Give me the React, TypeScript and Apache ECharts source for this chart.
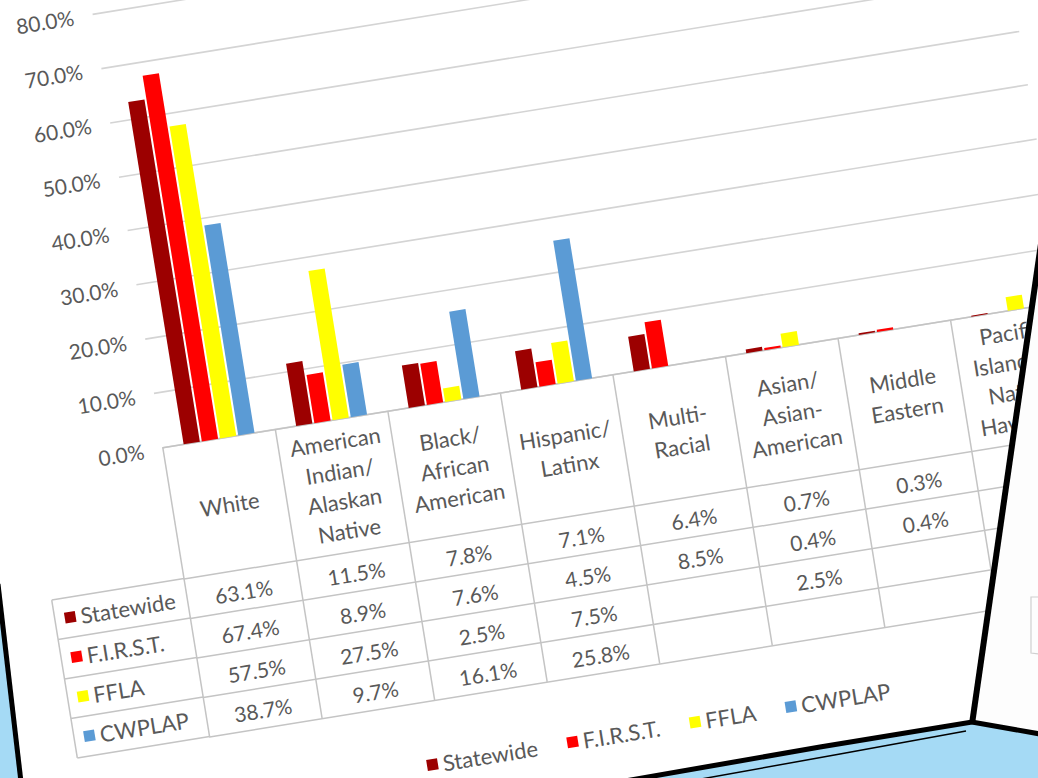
import React, { useEffect, useRef } from "react";
import * as echarts from "echarts";

// ---------- data ----------
const categories = [
  "White",
  "American\nIndian/\nAlaskan\nNative",
  "Black/\nAfrican\nAmerican",
  "Hispanic/\nLatinx",
  "Multi-\nRacial",
  "Asian/\nAsian-\nAmerican",
  "Middle\nEastern",
  "Pacific\nIslander/\nNative\nHawaiian",
];
const seriesNames = ["Statewide", "F.I.R.S.T.", "FFLA", "CWPLAP"];
const statewide = [63.1, 11.5, 7.8, 7.1, 6.4, 0.7, 0.3, 0.2];
const first = [67.4, 8.9, 7.6, 4.5, 8.5, 0.4, 0.4, null];
const ffla = [57.5, 27.5, 2.5, 7.5, null, 2.5, null, 2.5];
const cwplap = [38.7, 9.7, 16.1, 25.8, null, null, null, null];
const seriesValues = [statewide, first, ffla, cwplap];
const seriesColors = ["#9C0000", "#FF0000", "#FFFF00", "#5B9BD5"];
const yMin = 0;
const yMax = 80;
const yInterval = 10;

// ---------- layout ----------
const PAGE_W = 1038;
const PAGE_H = 778;
const ANGLE = -9.2;
const PIVOT_X = 519;
const PIVOT_Y = 389;
const FRAME_TOP = -110;
const FRAME_W = 1100;
const FRAME_H = 900;
const GRID_LEFT = 158;
const BAND = 114;
const GRID_TOP = 60.4;
const GRID_H = 439.6;
const HEADER_H = 132.6;
const ROW_H = 40;
const KEY_LEFT = 24;
const TEXT = "#595959";
const LINE = "#C4C4C4";
const FONT = "Lato, 'Open Sans', sans-serif";
const FS_TEXT = 22;
const FS_NUM = 21;

const fmt = (v: number | null) => (v == null ? "" : v.toFixed(1) + "%");

function MainChart() {
  const ref = useRef<HTMLDivElement>(null);
  useEffect(() => {
    if (!ref.current) return;
    const chart = echarts.init(ref.current, undefined, { renderer: "svg" });
    const zeroY = GRID_TOP + GRID_H;
    const rowTop = zeroY + HEADER_H;
    const rowAxes = seriesValues.map((vals, i) => ({
      type: "category",
      gridIndex: 0,
      position: "bottom",
      offset: HEADER_H + i * ROW_H,
      data: categories,
      axisLine: { show: true, lineStyle: { color: LINE, width: 1.5 } },
      axisTick: { show: false },
      axisLabel: {
        interval: 0,
        margin: ROW_H / 2 + 2,
        verticalAlign: "middle",
        fontSize: FS_NUM,
        color: TEXT,
        fontFamily: FONT,
        formatter: (_v: string, idx: number) => fmt(vals[idx] as number | null),
      },
    }));
    const keyLines: any[] = [];
    for (let i = 0; i <= seriesNames.length; i++) {
      keyLines.push({
        type: "line",
        shape: { x1: KEY_LEFT, y1: rowTop + i * ROW_H, x2: GRID_LEFT, y2: rowTop + i * ROW_H },
        style: { stroke: LINE, lineWidth: 1.5 },
      });
    }
    keyLines.push({
      type: "line",
      shape: { x1: KEY_LEFT, y1: rowTop, x2: KEY_LEFT, y2: rowTop + seriesNames.length * ROW_H },
      style: { stroke: LINE, lineWidth: 1.5 },
    });

    chart.setOption({
      animation: false,
      backgroundColor: "#ffffff",
      textStyle: { fontFamily: FONT },
      grid: { left: GRID_LEFT, top: GRID_TOP, width: BAND * categories.length, height: GRID_H },
      legend: [
        {
          orient: "vertical",
          left: KEY_LEFT + 10,
          top: rowTop + (ROW_H - 24) / 2,
          padding: 0,
          itemWidth: 11,
          itemHeight: 11,
          itemGap: ROW_H - 24,
          icon: "rect",
          selectedMode: false,
          data: seriesNames,
          textStyle: { fontSize: FS_TEXT, lineHeight: 24, color: TEXT, fontFamily: FONT },
        },
        {
          orient: "horizontal",
          left: 368,
          top: 746 - FRAME_TOP - 12,
          padding: 0,
          itemWidth: 11,
          itemHeight: 11,
          itemGap: 30,
          icon: "rect",
          selectedMode: false,
          data: seriesNames,
          textStyle: { fontSize: FS_TEXT, lineHeight: 24, color: TEXT, fontFamily: FONT },
        },
      ],
      xAxis: [
        {
          type: "category",
          data: categories,
          position: "bottom",
          axisLine: { show: true, lineStyle: { color: LINE, width: 1.5 } },
          axisTick: {
            show: true,
            interval: 0,
            length: HEADER_H + seriesNames.length * ROW_H,
            lineStyle: { color: LINE, width: 1.5 },
          },
          axisLabel: {
            interval: 0,
            margin: HEADER_H / 2,
            verticalAlign: "middle",
            lineHeight: 30,
            fontSize: FS_TEXT,
            color: TEXT,
            fontFamily: FONT,
          },
        },
        ...rowAxes,
        {
          type: "category",
          gridIndex: 0,
          position: "bottom",
          offset: HEADER_H + seriesNames.length * ROW_H,
          data: categories,
          axisLine: { show: true, lineStyle: { color: LINE, width: 1.5 } },
          axisTick: { show: false },
          axisLabel: { show: false },
        },
      ],
      yAxis: {
        type: "value",
        min: yMin,
        max: yMax,
        interval: yInterval,
        axisLine: { show: false },
        axisTick: { show: false },
        splitLine: { lineStyle: { color: "#D4D4D4", width: 1.6 } },
        axisLabel: {
          margin: 19,
          fontSize: FS_NUM,
          color: TEXT,
          fontFamily: FONT,
          formatter: (v: number) => v.toFixed(1) + "%",
        },
      },
      series: seriesNames.map((name, i) => ({
        name,
        type: "bar",
        xAxisIndex: 0,
        data: seriesValues[i],
        barGap: "12%",
        barCategoryGap: "37%",
        itemStyle: { color: seriesColors[i] },
      })),
      graphic: keyLines,
    });
    return () => chart.dispose();
  }, []);
  return (
    <div
      ref={ref}
      style={{
        position: "absolute",
        left: 0,
        top: FRAME_TOP,
        width: FRAME_W,
        height: FRAME_H,
        transformOrigin: `${PIVOT_X}px ${PIVOT_Y - FRAME_TOP}px`,
        transform: `rotate(${ANGLE}deg)`,
      }}
    />
  );
}

function Overlay() {
  const ref = useRef<HTMLDivElement>(null);
  useEffect(() => {
    if (!ref.current) return;
    const chart = echarts.init(ref.current, undefined, { renderer: "svg" });
    const blue = "#A5DAF5";
    chart.setOption({
      animation: false,
      graphic: [
        // other page on the right
        { type: "polygon", shape: { points: [[1076, 0], [972, 722], [1040, 735], [1040, 0]] }, style: { fill: "#FDFDFD" } },
        { type: "polyline", shape: { points: [[1040, 597], [1031, 597], [1031, 653], [1040, 654]] }, style: { stroke: "#D0D0D0", lineWidth: 1.2, fill: null } },
        // blue desk bottom right
        { type: "polygon", shape: { points: [[630, 780], [820, 747], [972, 722], [1040, 735], [1040, 780]] }, style: { fill: blue } },
        // blue desk bottom left
        { type: "polygon", shape: { points: [[-2, 586], [20, 780], [-2, 780]] }, style: { fill: blue } },
        // black edges
        { type: "line", shape: { x1: 1076, y1: 0, x2: 972, y2: 724 }, style: { stroke: "#000", lineWidth: 6 } },
        { type: "polyline", shape: { points: [[625, 781], [820, 747], [972, 722], [1040, 734]] }, style: { stroke: "#000", lineWidth: 5, fill: null } },
        { type: "polyline", shape: { points: [[690, 781], [840, 754], [966, 731]] }, style: { stroke: "#000", lineWidth: 1.5, fill: null } },
        { type: "line", shape: { x1: -2, y1: 584, x2: 21, y2: 782 }, style: { stroke: "#000", lineWidth: 5 } },
      ],
    });
    return () => chart.dispose();
  }, []);
  return (
    <div
      ref={ref}
      style={{ position: "absolute", left: 0, top: 0, width: PAGE_W, height: PAGE_H, pointerEvents: "none" }}
    />
  );
}

export default function App() {
  return (
    <div
      style={{
        position: "fixed",
        left: 0,
        top: 0,
        width: PAGE_W,
        height: PAGE_H,
        overflow: "hidden",
        background: "#ffffff",
      }}
    >
      <MainChart />
      <Overlay />
    </div>
  );
}
